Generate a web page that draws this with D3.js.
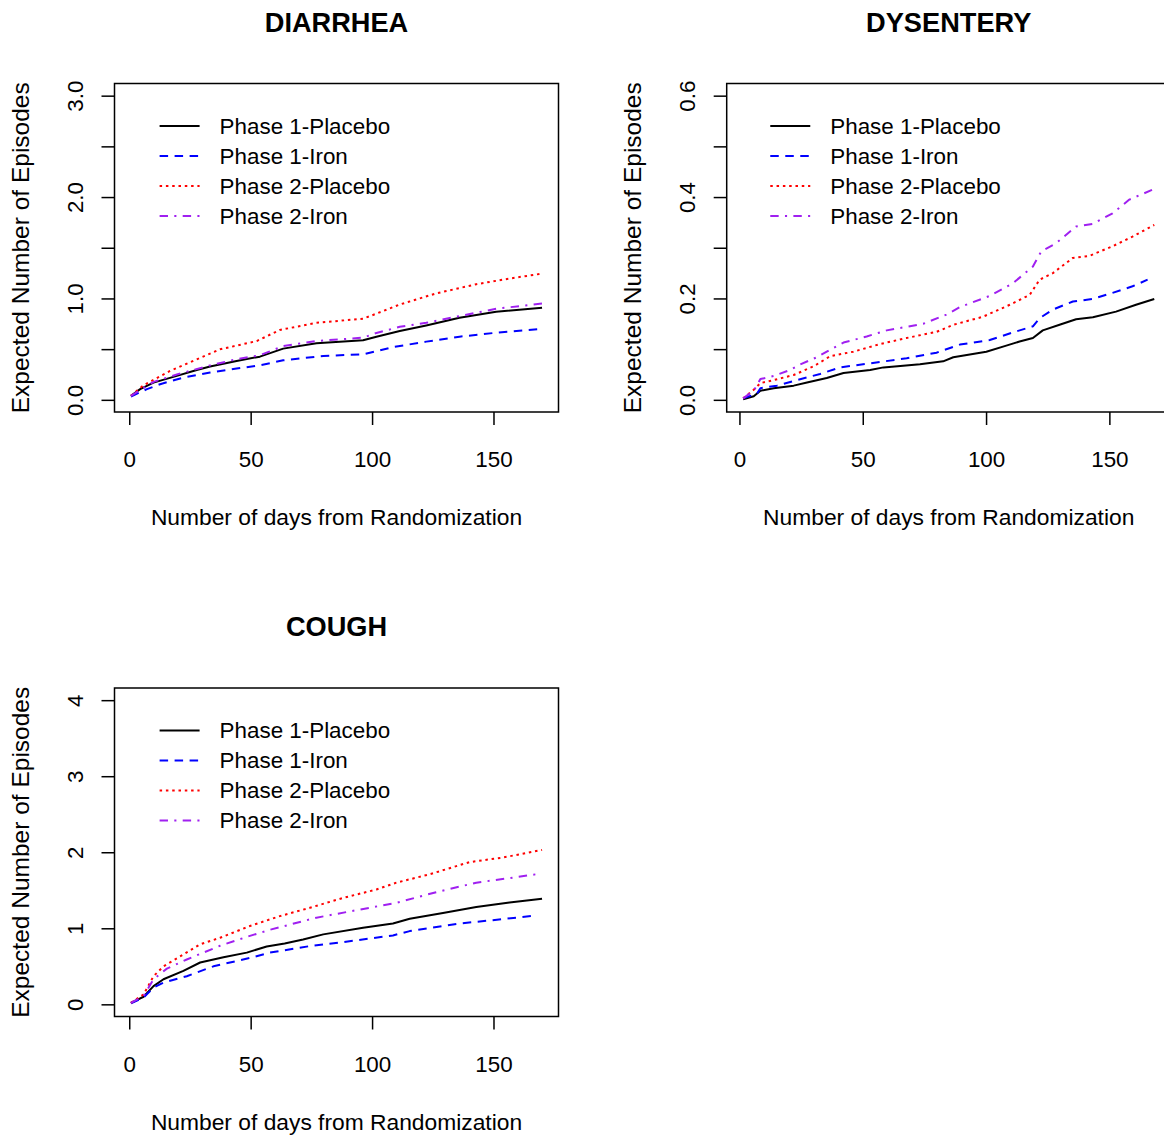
<!DOCTYPE html>
<html>
<head>
<meta charset="utf-8">
<script src="https://cdn.jsdelivr.net/npm/d3@7"></script>
<style>
  html, body { margin: 0; padding: 0; background: #fff; }
  svg { display: block; }
  text { font-family: "Liberation Sans", Arial, Helvetica, sans-serif; fill: #000; }
</style>
</head>
<body>
<script>
// Series names and styles shared by every panel
const seriesNames = ["Phase 1-Placebo", "Phase 1-Iron", "Phase 2-Placebo", "Phase 2-Iron"];
const seriesColors = ["#000000", "#0000FF", "#FF0000", "#A020F0"];
const seriesDash = [null, "8.5,6.5", "2.5,3.8", "8.4,6.3,2.1,6.3"];

// Mean cumulative number of episodes, [day, expected episodes]
const diarrheaP1Placebo = [[0.7,0.04],[4.5,0.105],[10,0.17],[19.6,0.236],[27.8,0.295],[33.3,0.328],[44.2,0.384],[53.8,0.426],[63.4,0.505],[77.1,0.557],[96.3,0.587],[101.8,0.623],[111.4,0.679],[122.3,0.734],[136,0.81],[151.1,0.869],[170,0.908]];
const diarrheaP1Iron = [[0.7,0.033],[7.3,0.105],[12.7,0.154],[22.3,0.22],[33.3,0.27],[44.2,0.308],[53.8,0.341],[63.4,0.39],[79.9,0.433],[96.3,0.449],[108.6,0.52],[122.3,0.574],[136,0.623],[151.1,0.662],[170,0.70]];
const diarrheaP2Placebo = [[0.7,0.04],[5.9,0.144],[16.8,0.285],[26.4,0.384],[37.4,0.498],[52.5,0.58],[62,0.689],[77.1,0.76],[96.3,0.80],[101.8,0.85],[111.4,0.94],[126.4,1.05],[142.9,1.14],[155,1.19],[170,1.245]];
const diarrheaP2Iron = [[0.7,0.04],[10,0.177],[19.6,0.25],[33.3,0.34],[44.2,0.40],[53.8,0.44],[63.4,0.53],[77.1,0.58],[96.3,0.613],[101.8,0.66],[111.4,0.72],[122.3,0.76],[136,0.826],[151.1,0.898],[170,0.95]];

const dysenteryP1Placebo = [[1.5,0.001],[5.8,0.007],[8.5,0.018],[13.9,0.023],[22,0.028],[27.4,0.034],[35.4,0.043],[42.2,0.053],[53,0.059],[58.4,0.064],[73.2,0.07],[82.6,0.076],[86.7,0.084],[100.1,0.095],[108.2,0.107],[113.6,0.115],[119,0.122],[123,0.137],[129.8,0.148],[136.5,0.159],[143.3,0.163],[152.7,0.174],[160.8,0.1875],[168.2,0.199]];
const dysenteryP1Iron = [[1.5,0.003],[7.1,0.012],[8.5,0.023],[15.2,0.028],[23.3,0.039],[32.7,0.051],[40.8,0.064],[53,0.072],[67.8,0.082],[79.9,0.093],[89.4,0.109],[101.5,0.118],[110.9,0.133],[119,0.145],[121.7,0.161],[127.1,0.178],[135.2,0.194],[143.3,0.199],[151.3,0.211],[159.4,0.224],[165.5,0.237]];
const dysenteryP2Placebo = [[1.5,0.003],[5.8,0.02],[8.5,0.033],[13.9,0.039],[22,0.049],[30,0.066],[36.8,0.086],[46.2,0.095],[57,0.11],[67.8,0.122],[79.9,0.134],[86.7,0.148],[98.8,0.164],[109.6,0.1875],[117.7,0.207],[121.7,0.237],[127.1,0.25],[135.2,0.28],[141.9,0.284],[151.3,0.303],[159.4,0.322],[168.2,0.345]];
const dysenteryP2Iron = [[1.5,0.003],[5.8,0.018],[8.5,0.041],[13.9,0.047],[20.6,0.059],[24.7,0.07],[31.4,0.084],[36.8,0.099],[42.2,0.113],[51.6,0.125],[59.7,0.137],[74.5,0.15],[83.9,0.168],[89.4,0.183],[101.5,0.205],[110.9,0.23],[119,0.263],[122.4,0.293],[128.4,0.309],[136.5,0.342],[143.3,0.347],[151.3,0.368],[158.1,0.395],[168.2,0.416]];

const coughP1Placebo = [[0.7,0.02],[5.9,0.10],[10,0.24],[14.1,0.33],[22.3,0.44],[29.2,0.55],[38.8,0.62],[48.4,0.68],[56.6,0.76],[64,0.80],[71.6,0.853],[79.9,0.92],[96.3,1.007],[108.6,1.063],[115.5,1.125],[129.2,1.20],[142.9,1.28],[156.6,1.34],[170,1.39]];
const coughP1Iron = [[0.7,0.013],[5.9,0.09],[10,0.22],[14.1,0.285],[23.7,0.37],[34.7,0.50],[49.7,0.61],[57.9,0.68],[74.4,0.766],[88.1,0.818],[108.6,0.906],[115.5,0.963],[136,1.063],[149.7,1.107],[167.5,1.168]];
const coughP2Placebo = [[0.7,0.02],[5.9,0.13],[10,0.37],[14.1,0.5],[22.3,0.656],[29.2,0.79],[37.4,0.875],[49.7,1.03],[62,1.16],[74.4,1.27],[88.1,1.40],[101.8,1.51],[110,1.60],[123.7,1.71],[140.1,1.87],[153.8,1.93],[170,2.03]];
const coughP2Iron = [[0.7,0.02],[5.9,0.11],[10,0.33],[15.5,0.47],[23.7,0.59],[30.5,0.68],[37.4,0.77],[49.7,0.90],[57.9,0.98],[77.1,1.14],[99,1.27],[110,1.335],[126.4,1.475],[142.9,1.60],[156.6,1.66],[169.6,1.72]];

// Axis ticks and labels
const xTicks = [0, 50, 100, 150];
const diarrheaYTicks = [0, 0.5, 1, 1.5, 2, 2.5, 3];
const diarrheaYLabels = [0, 1, 2, 3];
const dysenteryYTicks = [0, 0.1, 0.2, 0.3, 0.4, 0.5, 0.6];
const dysenteryYLabels = [0, 0.2, 0.4, 0.6];
const coughYTicks = [0, 1, 2, 3, 4];
const coughYLabels = [0, 1, 2, 3, 4];

const xTitle = "Number of days from Randomization";
const yTitle = "Expected Number of Episodes";

const W = 1164, H = 1136;
const boxW = 444, boxH = 328.5;
const FONT = '"Liberation Sans", Arial, sans-serif';

const svg = d3.select("body").append("svg")
  .attr("width", W).attr("height", H)
  .attr("viewBox", `0 0 ${W} ${H}`);
svg.append("rect").attr("width", W).attr("height", H).attr("fill", "#fff");

const panels = [
  { title: "DIARRHEA", left: 114.5, top: 83.5, ylim: [0, 3],
    series: [diarrheaP1Placebo, diarrheaP1Iron, diarrheaP2Placebo, diarrheaP2Iron],
    yTicks: diarrheaYTicks, yLabels: diarrheaYLabels, fmt: d3.format(".1f") },
  { title: "DYSENTERY", left: 726.7, top: 83.5, ylim: [0, 0.6],
    series: [dysenteryP1Placebo, dysenteryP1Iron, dysenteryP2Placebo, dysenteryP2Iron],
    yTicks: dysenteryYTicks, yLabels: dysenteryYLabels, fmt: d3.format(".1f") },
  { title: "COUGH", left: 114.5, top: 688, ylim: [0, 4],
    series: [coughP1Placebo, coughP1Iron, coughP2Placebo, coughP2Iron],
    yTicks: coughYTicks, yLabels: coughYLabels, fmt: d3.format("d") }
];

// pad a range by 4% on each side, as R does by default
function padded(lo, hi) {
  const e = (hi - lo) * 0.04;
  return [lo - e, hi + e];
}

panels.forEach(p => {
  const g = svg.append("g").attr("transform", `translate(${p.left},${p.top})`);

  const allDays = p.series.flat().map(d => d[0]);
  const x = d3.scaleLinear().domain(padded(d3.min(allDays), d3.max(allDays))).range([0, boxW]);
  const y = d3.scaleLinear().domain(padded(p.ylim[0], p.ylim[1])).range([boxH, 0]);

  // clip lines to the plotting box
  const clipId = "clip-" + p.title;
  g.append("clipPath").attr("id", clipId)
    .append("rect").attr("width", boxW).attr("height", boxH);

  const line = d3.line().x(d => x(d[0])).y(d => y(d[1]));
  const lines = g.append("g").attr("clip-path", `url(#${clipId})`);
  p.series.forEach((s, i) => {
    lines.append("path")
      .datum(s)
      .attr("d", line)
      .attr("fill", "none")
      .attr("stroke", seriesColors[i])
      .attr("stroke-width", 2)
      .attr("stroke-dasharray", seriesDash[i])
      .attr("stroke-linejoin", "round");
  });

  // x axis
  const xAxis = d3.axisBottom(x).tickValues(xTicks).tickSize(13).tickSizeOuter(0).tickFormat(d3.format("d"));
  const gx = g.append("g").attr("transform", `translate(0,${boxH})`).call(xAxis);
  gx.select(".domain").remove();
  gx.selectAll(".tick line").attr("stroke", "#000").attr("stroke-width", 1.5);
  gx.selectAll(".tick text")
    .attr("y", 55).attr("dy", 0)
    .style("font-size", "22.4px")
    .style("font-family", FONT);

  // y axis, labels parallel to the axis
  const labelSet = new Set(p.yLabels.map(v => +v.toFixed(6)));
  const yAxis = d3.axisLeft(y).tickValues(p.yTicks).tickSize(13).tickSizeOuter(0)
    .tickFormat(v => labelSet.has(+v.toFixed(6)) ? p.fmt(v) : "");
  const gy = g.append("g").call(yAxis);
  gy.select(".domain").remove();
  gy.selectAll(".tick line").attr("stroke", "#000").attr("stroke-width", 1.5);
  gy.selectAll(".tick text")
    .attr("x", null).attr("dy", null)
    .attr("transform", "translate(-31.5,0) rotate(-90)")
    .attr("text-anchor", "middle")
    .style("font-size", "22.4px")
    .style("font-family", FONT);

  // plot frame
  g.append("rect")
    .attr("width", boxW).attr("height", boxH)
    .attr("fill", "none").attr("stroke", "#000").attr("stroke-width", 1.5);

  // titles
  g.append("text")
    .attr("x", boxW / 2).attr("y", -52)
    .attr("text-anchor", "middle")
    .style("font-size", "27.2px").style("font-weight", "bold")
    .text(p.title);
  g.append("text")
    .attr("x", boxW / 2).attr("y", boxH + 113)
    .attr("text-anchor", "middle")
    .style("font-size", "22.8px")
    .text(xTitle);
  g.append("text")
    .attr("transform", `translate(-86,${boxH / 2}) rotate(-90)`)
    .attr("text-anchor", "middle")
    .style("font-size", "24.5px")
    .text(yTitle);

  // legend
  const lx = x(12.5);
  const leg = g.append("g");
  seriesNames.forEach((name, i) => {
    const ly = 42.5 + i * 30;
    leg.append("line")
      .attr("x1", lx).attr("x2", lx + 40)
      .attr("y1", ly).attr("y2", ly)
      .attr("stroke", seriesColors[i])
      .attr("stroke-width", 2)
      .attr("stroke-dasharray", seriesDash[i]);
    leg.append("text")
      .attr("x", lx + 60).attr("y", ly + 7.8)
      .style("font-size", "22.4px")
      .text(name);
  });
});
</script>
</body>
</html>
